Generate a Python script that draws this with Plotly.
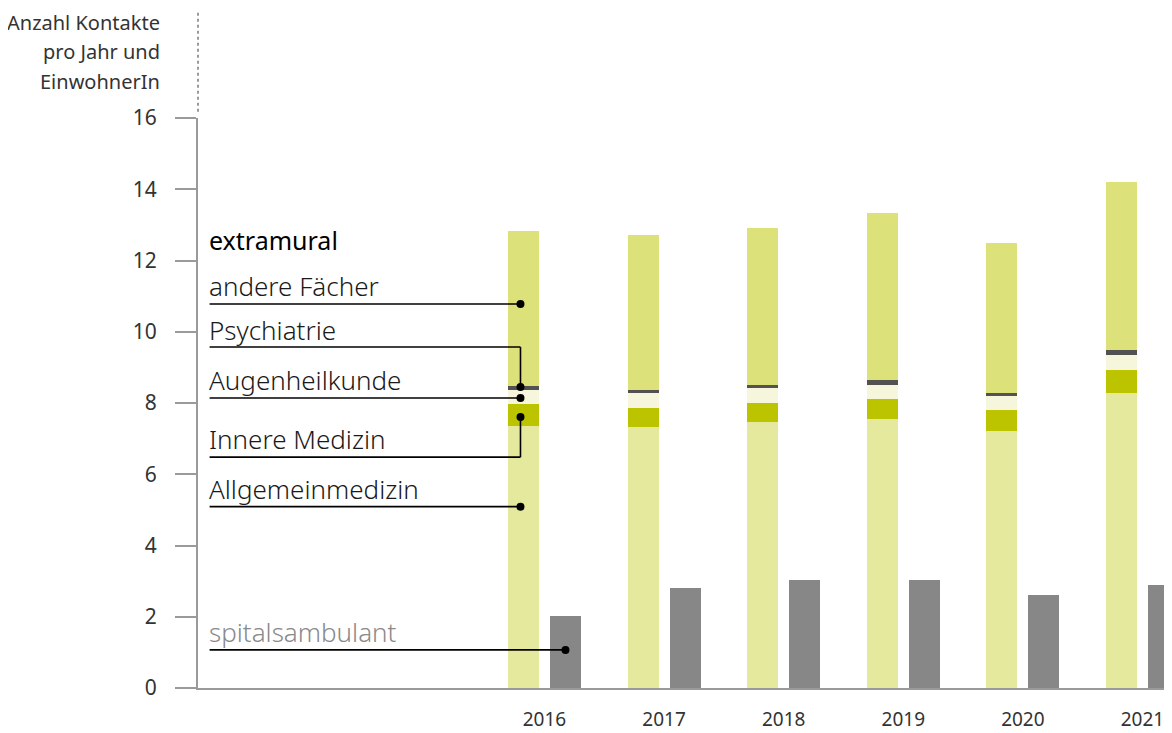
import numpy as np
import plotly.graph_objects as go

years = [2016, 2017, 2018, 2019, 2020, 2021]

# extramural, stacked from the bottom up
allgemeinmedizin = [7.35, 7.33, 7.47, 7.55, 7.21, 8.28]
innere_medizin = [0.63, 0.53, 0.53, 0.56, 0.59, 0.65]
augenheilkunde = [0.39, 0.42, 0.42, 0.40, 0.39, 0.42]
psychiatrie = [0.12, 0.09, 0.09, 0.14, 0.09, 0.14]
andere_faecher = [4.34, 4.35, 4.40, 4.68, 4.20, 4.71]

spitalsambulant = [2.02, 2.81, 3.03, 3.03, 2.61, 2.89]

y_ticks = [0, 2, 4, 6, 8, 10, 12, 14, 16]

FONT = "Noto Sans"
GREY_AXIS = "#9a9a9a"
BAR_W = 0.259
OFF = 0.1756

yrs = np.array(years, dtype=float)
x_ext = yrs - OFF
x_spi = yrs + OFF

fig = go.Figure()

series = [
    ("Allgemeinmedizin", allgemeinmedizin, "#e5e99d"),
    ("Innere Medizin", innere_medizin, "#bcc400"),
    ("Augenheilkunde", augenheilkunde, "#f6f6dd"),
    ("Psychiatrie", psychiatrie, "#525252"),
    ("andere Fächer", andere_faecher, "#dce17a"),
]
for name, vals, col in series:
    fig.add_trace(go.Bar(x=x_ext, y=vals, name=name, width=BAR_W,
                         marker=dict(color=col, line=dict(width=0)),
                         hoverinfo="name+y"))

fig.add_trace(go.Bar(x=x_spi, y=spitalsambulant, name="spitalsambulant", width=BAR_W,
                     marker=dict(color="#878787", line=dict(width=0)),
                     hoverinfo="name+y"))

# label block with leader lines
label_x = 2013.2
dot_x = x_ext[0] - 0.025
labels = [
    # text, text y, line y, dot y
    ("andere Fächer", 11.28, 10.78, 10.78),
    ("Psychiatrie", 10.05, 9.57, 8.45),
    ("Augenheilkunde", 8.65, 8.14, 8.14),
    ("Innere Medizin", 6.99, 6.48, 7.61),
    ("Allgemeinmedizin", 5.59, 5.09, 5.09),
]
dots_x, dots_y = [], []
for text, ty, ly, dy in labels:
    fig.add_annotation(x=label_x, y=ty, xref="x", yref="y", text=text, showarrow=False,
                       xanchor="left", yanchor="middle", xshift=-3,
                       font=dict(family=FONT, size=26, color="#1a1a1a", weight=300))
    fig.add_shape(type="line", xref="x", yref="y", x0=label_x, x1=dot_x, y0=ly, y1=ly,
                  line=dict(color="black", width=1.6))
    if dy != ly:
        fig.add_shape(type="line", xref="x", yref="y", x0=dot_x, x1=dot_x, y0=ly, y1=dy,
                      line=dict(color="black", width=1.6))
    dots_x.append(dot_x)
    dots_y.append(dy)

fig.add_annotation(x=label_x, y=12.58, xref="x", yref="y", text="extramural", showarrow=False,
                   xanchor="left", yanchor="middle", xshift=-3,
                   font=dict(family=FONT, size=25, color="black"))

fig.add_annotation(x=label_x, y=1.57, xref="x", yref="y", text="spitalsambulant", showarrow=False,
                   xanchor="left", yanchor="middle", xshift=-3,
                   font=dict(family=FONT, size=26, color="#8a8a8a", weight=300))
spi_dot_x = x_spi[0]
fig.add_shape(type="line", xref="x", yref="y", x0=label_x, x1=spi_dot_x, y0=1.07, y1=1.07,
              line=dict(color="black", width=1.6))
dots_x.append(spi_dot_x)
dots_y.append(1.07)

fig.add_trace(go.Scatter(x=dots_x, y=dots_y, mode="markers", hoverinfo="skip",
                         marker=dict(color="black", size=8), showlegend=False))

# dotted extension of the y axis
fig.add_shape(type="line", xref="paper", yref="paper", x0=0, x1=0, y0=1.011, y1=1.186,
              line=dict(color=GREY_AXIS, width=2, dash="dot"))

# axis title, three right-aligned lines
for i, line in enumerate(["Anzahl Kontakte", "pro Jahr und", "EinwohnerIn"]):
    fig.add_annotation(xref="paper", yref="paper", x=0, xshift=-36, y=1.168 - i * 0.0518,
                       text=line, showarrow=False, xanchor="right", yanchor="middle",
                       font=dict(family=FONT, size=20, color="#333333"))

# the page puts the figure 8px in from the top-left corner
fig.update_layout(
    width=1164, height=725,
    margin=dict(l=190, r=0, t=110, b=45),
    barmode="stack",
    showlegend=False,
    plot_bgcolor="white",
    paper_bgcolor="white",
    font=dict(family=FONT, color="#333333"),
)
fig.update_xaxes(range=[2013.103, 2021.247], showgrid=False, zeroline=False,
                 showline=True, linecolor=GREY_AXIS, linewidth=2, automargin=False,
                 tickvals=years, ticktext=[str(y) for y in years], ticks="",
                 tickfont=dict(family=FONT, size=19, color="#333333"),
                 ticklabelstandoff=13)
fig.update_yaxes(range=[0, 16], showgrid=False, zeroline=False,
                 showline=True, linecolor=GREY_AXIS, linewidth=2, automargin=False,
                 tickvals=y_ticks, ticks="outside", ticklen=21, tickwidth=2,
                 tickcolor=GREY_AXIS,
                 tickfont=dict(family=FONT, size=21, color="#333333"),
                 ticklabelstandoff=14)

fig.write_html("out.html")
